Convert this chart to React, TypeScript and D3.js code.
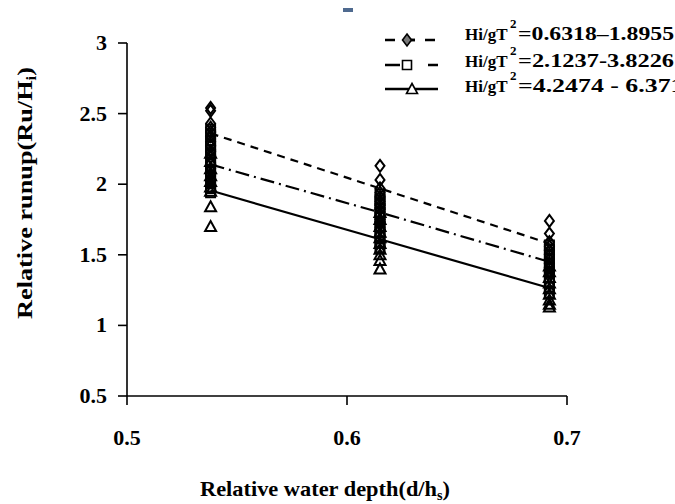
import React from 'react';
import * as d3 from 'd3';

// depth ratios where runs were made
const depths = [0.538, 0.615, 0.692];

// Hi/gT^2 = 0.6318-1.8955 (diamonds)
const diamondRuns = [
  [2.54, 2.52, 2.43, 2.4, 2.37, 2.34, 2.3, 2.27, 2.23, 2.19, 2.15, 2.11, 2.07, 2.03],
  [2.13, 2.03, 1.97, 1.94, 1.91, 1.88, 1.85, 1.82, 1.78, 1.75, 1.72, 1.68],
  [1.74, 1.65, 1.59, 1.56, 1.53, 1.5, 1.47, 1.44, 1.41, 1.38, 1.35],
];
// Hi/gT^2 = 2.1237-3.8226 (squares)
const squareRuns = [
  [2.39, 2.35, 2.31, 2.27, 2.24, 2.21, 2.17, 2.13, 2.09, 2.05, 2.01, 1.97, 1.94],
  [1.93, 1.89, 1.86, 1.83, 1.8, 1.77, 1.73, 1.7, 1.66, 1.63, 1.59, 1.55],
  [1.57, 1.54, 1.5, 1.47, 1.44, 1.41, 1.38, 1.34, 1.31, 1.27, 1.23],
];
// Hi/gT^2 = 4.2474-6.3711 (triangles)
const triangleRuns = [
  [2.22, 2.16, 2.11, 2.06, 2.02, 1.98, 1.95, 1.84, 1.7],
  [1.8, 1.75, 1.7, 1.66, 1.62, 1.58, 1.54, 1.5, 1.46, 1.4],
  [1.42, 1.38, 1.34, 1.3, 1.26, 1.22, 1.18, 1.15, 1.13],
];

// trend lines read at each depth
const diamondFit = [2.36, 1.97, 1.58];
const squareFit = [2.14, 1.8, 1.45];
const triangleFit = [1.955, 1.61, 1.265];

const xTicks = [0.5, 0.6, 0.7];
const yTicks = [0.5, 1, 1.5, 2, 2.5, 3];
const legendLabels = ['=0.6318\u20131.8955', '=2.1237-3.8226', '=4.2474 - 6.3711'];

const font = '"Liberation Serif", "Times New Roman", serif';

const diamond = (x: number, y: number) => `M${x},${y - 6}L${x + 4.5},${y}L${x},${y + 6}L${x - 4.5},${y}Z`;
const square = (x: number, y: number) => `M${x - 4.5},${y - 4.5}h9v9h-9Z`;
const triangle = (x: number, y: number) => `M${x},${y - 5.5}L${x + 5.5},${y + 4.5}L${x - 5.5},${y + 4.5}Z`;

export default function App() {
  const x = d3.scaleLinear().domain([0.5, 0.7]).range([127, 567]);
  const y = d3.scaleLinear().domain([0.5, 3]).range([396, 43]);
  const line = d3.line<number>().x((_, i) => x(depths[i])).y((d) => y(d));

  const series = [
    { runs: diamondRuns, fit: diamondFit, shape: diamond, dash: '8,6' },
    { runs: squareRuns, fit: squareFit, shape: square, dash: '14,5,2,5' },
    { runs: triangleRuns, fit: triangleFit, shape: triangle, dash: undefined },
  ];

  return (
    <svg width={675} height={504} style={{ position: 'absolute', left: 0, top: 0, background: '#fff' }}>
      <rect x={343} y={8} width={10} height={4} fill="#4f6a8f" />

      {/* axes */}
      <g stroke="#000" strokeWidth={1.6} fill="none">
        <line x1={x(0.5)} x2={x(0.5)} y1={y(3)} y2={y(0.5)} />
        <line x1={x(0.5)} x2={x(0.7)} y1={y(0.5)} y2={y(0.5)} />
        {yTicks.map((t) => (
          <line key={t} x1={x(0.5) - 9} x2={x(0.5)} y1={y(t)} y2={y(t)} />
        ))}
        {xTicks.map((t) => (
          <line key={t} x1={x(t)} x2={x(t)} y1={y(0.5)} y2={y(0.5) + 9} />
        ))}
      </g>
      <g fontFamily={font} fontWeight="bold" fontSize={22} fill="#000">
        {yTicks.map((t) => (
          <text key={t} x={107} y={y(t) + 7} textAnchor="end">{t}</text>
        ))}
        {xTicks.map((t) => (
          <text key={t} x={x(t)} y={445} textAnchor="middle">{t}</text>
        ))}
        <text x={325} y={496} textAnchor="middle" fontSize={22} textLength={250} lengthAdjust="spacingAndGlyphs">
          Relative water depth(d/h<tspan fontSize={14} dy={4}>s</tspan><tspan dy={-4}>)</tspan>
        </text>
        <text transform="translate(32,193) rotate(-90)" textAnchor="middle" fontSize={22} textLength={252} lengthAdjust="spacingAndGlyphs">
          Relative runup(Ru/H<tspan fontSize={14} dy={4}>i</tspan><tspan dy={-4}>)</tspan>
        </text>
      </g>

      {/* trend lines */}
      {series.map((s, i) => (
        <path key={i} d={line(s.fit) || ''} fill="none" stroke="#000" strokeWidth={2.2} strokeDasharray={s.dash} />
      ))}

      {/* points */}
      {series.map((s, i) => (
        <g key={i} fill="none" stroke="#000" strokeWidth={2}>
          {s.runs.map((vals, j) =>
            vals.map((v, k) => <path key={`${j}-${k}`} d={s.shape(x(depths[j]), y(v))} />)
          )}
        </g>
      ))}

      {/* legend */}
      <g>
        {series.map((s, i) => {
          const ly = [40, 65, 89][i];
          return (
            <g key={i}>
              <line x1={385} x2={438} y1={ly} y2={ly} stroke="#000" strokeWidth={2.5}
                strokeDasharray={i === 0 ? '10,10,0,0' : i === 1 ? '15,28,10' : undefined} />
              {i === 0 && <line x1={405} x2={415} y1={ly} y2={ly} stroke="#000" strokeWidth={2.5} />}
              <path d={s.shape(i === 2 ? 412 : 407, ly)} fill={i === 0 ? '#777' : '#fff'} stroke="#000" strokeWidth={1.6} />
            </g>
          );
        })}
        <g fontFamily={font} fontWeight="bold" fill="#000">
          {legendLabels.map((lab, i) => {
            const by = [40, 67, 92][i];
            return (
              <g key={i}>
                <text x={465} y={by} fontSize={17}>Hi/gT</text>
                <text x={510} y={by - 12} fontSize={13}>2</text>
                <text x={518} y={by} fontSize={19} textLength={i === 2 ? 177 : 156} lengthAdjust="spacingAndGlyphs">{lab}</text>
              </g>
            );
          })}
        </g>
      </g>
    </svg>
  );
}
